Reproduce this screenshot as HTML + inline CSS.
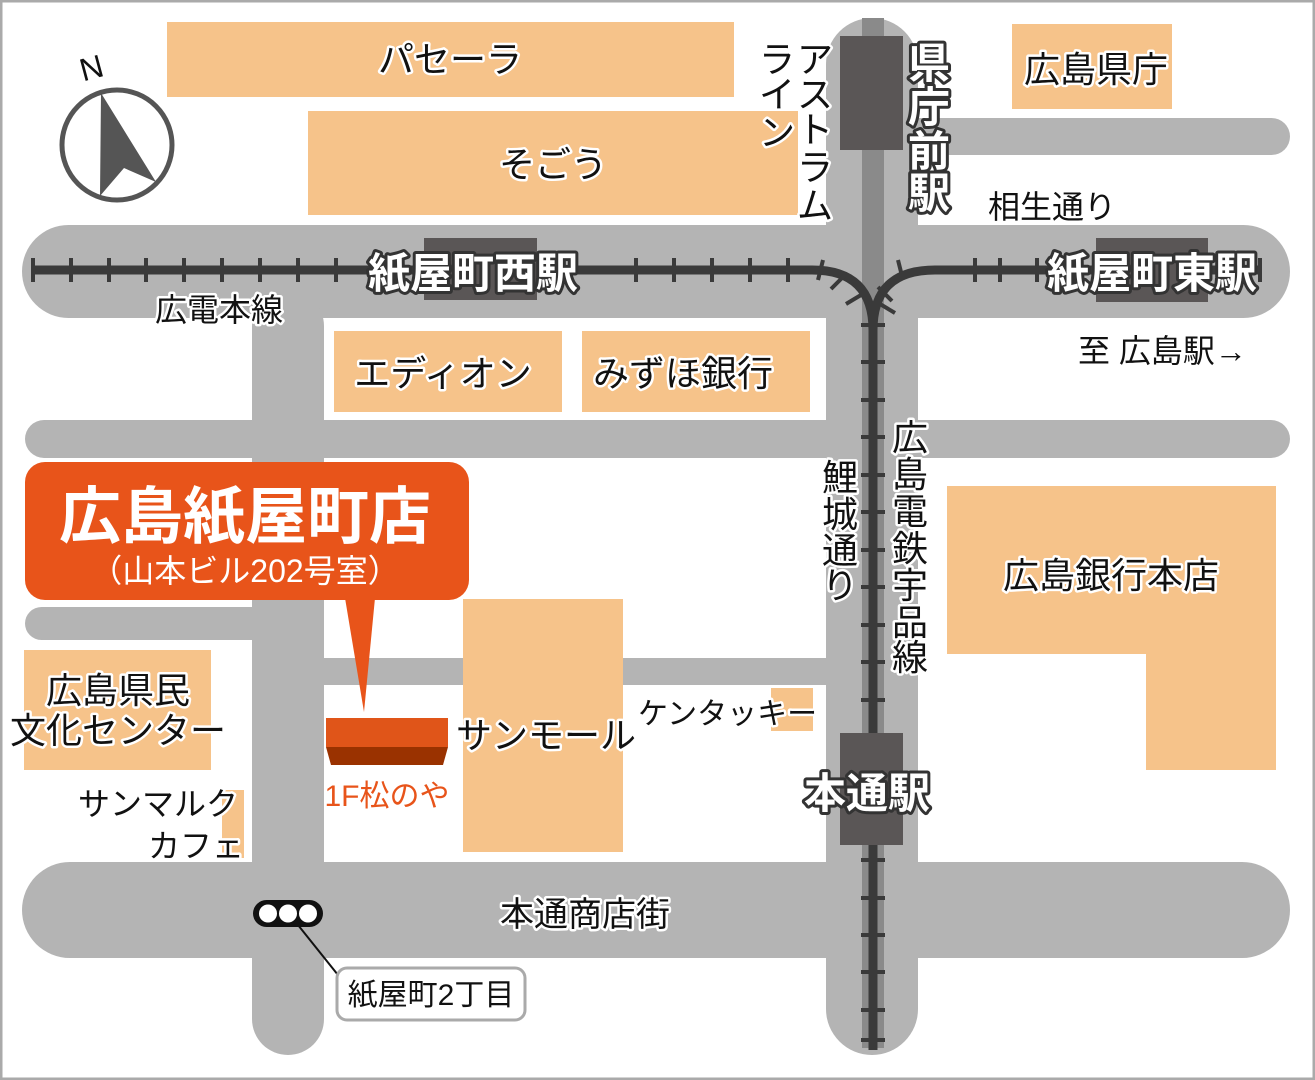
<!DOCTYPE html>
<html><head><meta charset="utf-8"><style>
html,body{margin:0;padding:0;background:#fff}
svg{display:block}
text{font-family:"Liberation Sans","Noto Sans CJK JP",sans-serif;}
.h{paint-order:stroke;stroke:#fff;stroke-width:5px;stroke-linejoin:round;fill:#111}
.hb{paint-order:stroke;stroke:#333;stroke-width:6px;stroke-linejoin:round;fill:#fff;font-weight:bold}
</style></head><body>
<svg width="1315" height="1080" viewBox="0 0 1315 1080" xmlns="http://www.w3.org/2000/svg">
<rect x="1" y="1" width="1313" height="1078" fill="#fff" stroke="#aaa" stroke-width="3"/>
<!-- roads -->
<g fill="#b4b4b4">
<rect x="826" y="18" width="92" height="1037" rx="46"/>
<rect x="880" y="118" width="410" height="37" rx="18.5"/>
<rect x="22" y="225" width="1268" height="93" rx="46.5"/>
<rect x="25" y="420" width="1265" height="38" rx="19"/>
<rect x="252" y="290" width="72" height="765" rx="36"/>
<rect x="25" y="607" width="260" height="33" rx="16.5"/>
<rect x="300" y="658" width="540" height="27"/>
<rect x="22" y="862" width="1268" height="96" rx="48"/>
</g>
<!-- buildings -->
<g fill="#f6c38a">
<rect x="167" y="22" width="567" height="75"/>
<rect x="308" y="111" width="490" height="104"/>
<rect x="1012" y="24" width="160" height="85"/>
<rect x="334" y="331" width="228" height="81"/>
<rect x="582" y="331" width="228" height="81"/>
<path d="M947 486H1276V770H1146V654H947Z"/>
<rect x="463" y="599" width="160" height="253"/>
<rect x="771" y="688" width="42" height="43"/>
<rect x="24" y="650" width="187" height="120"/>
<rect x="222" y="790" width="22" height="68"/>
</g>
<rect x="862" y="18" width="22" height="1030" fill="#8a8a8a"/>
<!-- tracks -->
<g stroke="#3a3a3a" fill="none">
<path d="M33 270H812Q873 270 873 330V1050M935 270H1262M935 270Q873 270 873 330" stroke-width="9"/>
<g stroke-width="4">
<path d="M33 258v24M71 258v24M109 258v24M146 258v24M184 258v24M222 258v24M260 258v24M298 258v24M336 258v24M636 258v24M674 258v24M712 258v24M750 258v24M788 258v24"/>
<path d="M1000 258v24M1037 258v24M975 258v24M1260 258v24"/>
<path d="M823 260l-5 20M845 275l-14 14M861 295l-15 9M898 260l5 20M878 287l14 14M880 304l15 9"/>
<path d="M861 325h24M861 362h24M861 400h24M861 437h24M861 475h24M861 512h24M861 550h24M861 587h24M861 625h24M861 662h24M861 700h24M861 860h24M861 898h24M861 935h24M861 972h24M861 1010h24M861 1040h24"/>
</g></g>
<!-- stations -->
<g fill="#5a5656">
<rect x="840" y="36" width="63" height="114"/>
<rect x="424" y="238" width="113" height="62"/>
<rect x="1096" y="238" width="112" height="64"/>
<rect x="840" y="733" width="63" height="112"/>
</g>
<!-- compass -->
<circle cx="117" cy="145" r="55" fill="#fff" stroke="#555" stroke-width="5"/>
<path d="M101 93L156 182L124 168L100 196Z" fill="#555"/>
<text x="80" y="78" font-size="32" transform="rotate(-15 95 68)" fill="#111">N</text>
<!-- labels -->
<g font-size="36" class="h" text-anchor="middle">
<text x="450" y="72">パセーラ</text>
<text x="553" y="177">そごう</text>
<text x="1096" y="82">広島県庁</text>
<text x="443" y="386">エディオン</text>
<text x="683" y="386">みずほ銀行</text>
<text x="1111" y="588">広島銀行本店</text>
<text x="546" y="748">サンモール</text>
<text x="118" y="703">広島県民</text>
<text x="118" y="743">文化センター</text>
<text x="585" y="926" font-size="34">本通商店街</text>
</g>
<g font-size="32" class="h">
<text x="155" y="321">広電本線</text>
<text x="988" y="218">相生通り</text>
<text x="1078" y="362">至 広島駅→</text>
<text x="638" y="724" font-size="30">ケンタッキー</text>
<text x="78" y="815">サンマルク</text>
<text x="148" y="857">カフェ</text>
</g>
<g font-size="36" class="h" text-anchor="middle">
<text x="815" y="72">ア</text><text x="815" y="107">ス</text><text x="815" y="142">ト</text><text x="815" y="180">ラ</text><text x="815" y="218">ム</text>
<text x="777" y="72">ラ</text><text x="777" y="107">イ</text><text x="777" y="145">ン</text>
<text x="840" y="490">鯉</text><text x="840" y="527">城</text><text x="840" y="563">通</text><text x="840" y="598">り</text>
<text x="910" y="450">広</text><text x="910" y="487">島</text><text x="910" y="524">電</text><text x="910" y="561">鉄</text><text x="910" y="598">宇</text><text x="910" y="635">品</text><text x="910" y="670">線</text>
</g>
<g class="hb" font-size="42" text-anchor="middle">
<text x="473" y="288">紙屋町西駅</text>
<text x="1152" y="288">紙屋町東駅</text>
<text x="867" y="808">本通駅</text>
<text x="929" y="78">県</text><text x="929" y="122">庁</text><text x="929" y="166">前</text><text x="929" y="208">駅</text>
</g>
<!-- callout -->
<rect x="25" y="462" width="444" height="138" rx="20" fill="#e8541a"/>
<path d="M345 598L375 598L364 712Z" fill="#e8541a"/>
<text x="245" y="538" font-size="62" font-weight="bold" fill="#fff" text-anchor="middle">広島紙屋町店</text>
<text x="245" y="582" font-size="32" fill="#fff" text-anchor="middle">（山本ビル202号室）</text>
<rect x="326" y="718" width="122" height="29" fill="#e05519"/>
<path d="M326 747H448L443 765H331Z" fill="#9a3200"/>
<text x="387" y="806" font-size="30" fill="#e8541a" text-anchor="middle">1F松のや</text>
<!-- traffic light -->
<line x1="298" y1="925" x2="342" y2="980" stroke="#111" stroke-width="2"/>
<rect x="253" y="900" width="70" height="27" rx="13.5" fill="#111"/>
<g fill="#fff"><circle cx="268" cy="913.5" r="9"/><circle cx="288" cy="913.5" r="9"/><circle cx="308" cy="913.5" r="9"/></g>
<rect x="337" y="968" width="188" height="52" rx="10" fill="#fff" stroke="#aaa" stroke-width="3"/>
<text x="431" y="1005" font-size="30" fill="#111" text-anchor="middle">紙屋町2丁目</text>
</svg>
</body></html>
